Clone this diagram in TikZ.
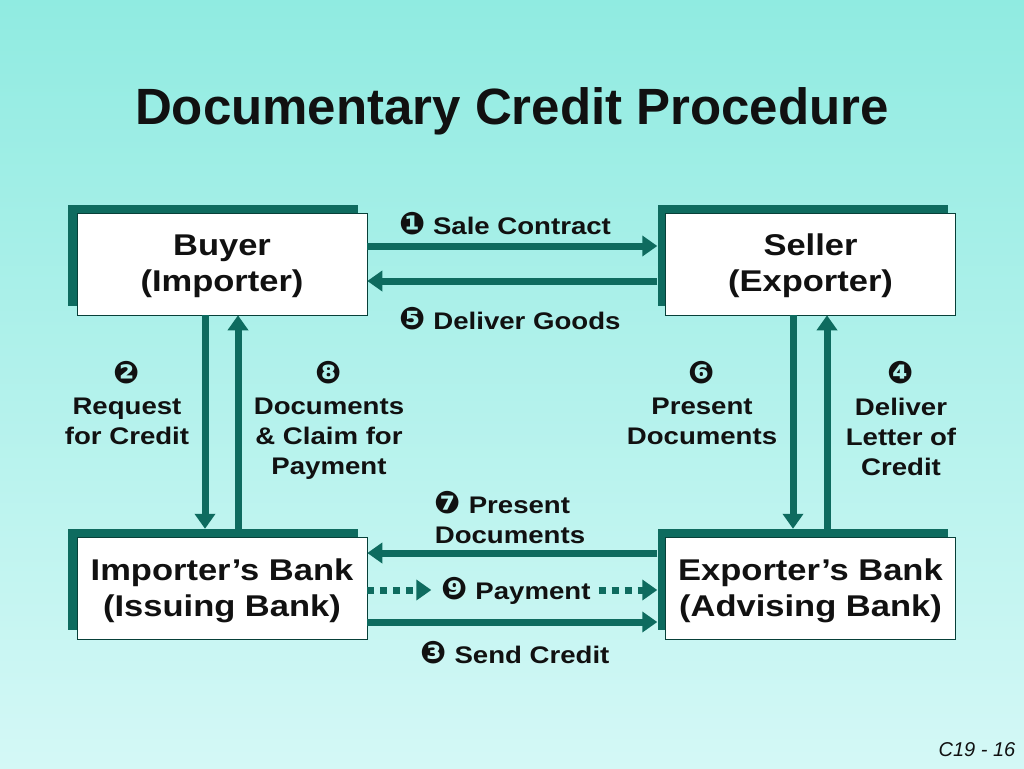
\documentclass[tikz,border=0pt]{standalone}
\usepackage{fontspec}
\setmainfont{Liberation Sans}
\newfontfamily\widefont[FakeStretch=1.15]{Liberation Sans}
\newfontfamily\dingfont{DejaVu Sans}
\usetikzlibrary{arrows.meta,calc}
\definecolor{teal1}{HTML}{0E6B5F}
\definecolor{bgtop}{HTML}{90EBE1}
\definecolor{bgbot}{HTML}{D4F8F6}
\definecolor{ink}{HTML}{111111}
\tikzset{
  box/.style={draw=teal1!60!black, line width=0.6pt, fill=white, minimum width=290pt, minimum height=102pt, inner sep=0pt, align=center, font=\widefont\fontsize{30}{36}\selectfont\bfseries, text=ink},
  shadowbox/.style={fill=teal1, minimum width=290pt, minimum height=101pt, inner sep=0pt},
  arr/.style={draw=teal1, line width=7pt, -{Triangle[length=15pt,width=20pt]}},
  dotarr/.style={draw=teal1, line width=7pt, dash pattern=on 7pt off 6pt, -{Triangle[length=15pt,width=20pt]}},
  lbl/.style={font=\widefont\fontsize{24}{30}\selectfont\bfseries, text=ink, align=center, inner sep=2pt},
}
\newcommand{\dn}[1]{{\dingfont\fontsize{31}{30}\selectfont #1}}
\newcommand{\boxtext}[2]{\raisebox{-2pt}[\height][\depth]{\parbox{286pt}{\centering #1\\#2}}}
\begin{document}
\begin{tikzpicture}[x=1pt,y=-1pt]
\useasboundingbox (0,0) rectangle (1024,768);
\shade[top color=bgtop, bottom color=bgbot] (0,0) rectangle (1024,768);
\node[font=\fontsize{51}{56}\selectfont\bfseries, text=ink] (title) at (512,111) {Documentary Credit Procedure};
% shadows
\node[shadowbox] (buyersh) at (213,255) {};
\node[shadowbox] (sellersh) at (802.5,255) {};
\node[shadowbox] (impsh) at (213,579.5) {};
\node[shadowbox] (expsh) at (802.5,579.5) {};
% boxes
\node[box] (buyer) at (222,264) {\boxtext{Buyer}{(Importer)}};
\node[box] (seller) at (810.5,264) {\boxtext{Seller}{(Exporter)}};
\node[box] (impbank) at (222,588.5) {\boxtext{Importer’s Bank}{(Issuing Bank)}};
\node[box] (expbank) at (810.5,588.5) {\boxtext{Exporter’s Bank}{(Advising Bank)}};
% top arrows
\draw[arr] ([yshift=18pt]buyer.east) -- ([yshift=9pt]sellersh.west);
\draw[arr] ([yshift=-26pt]sellersh.west) -- ([yshift=-17pt]buyer.east);
\node[lbl] (l1) at (505,224) {\dn{❶} Sale Contract};
\node[lbl] (l5) at (510,319) {\dn{❺} Deliver Goods};
% left verticals
\draw[arr] ([xshift=-17pt]buyer.south) -- ([xshift=-8pt]impsh.north);
\draw[arr] ([xshift=25pt]impsh.north) -- ([xshift=16pt]buyer.south);
% right verticals
\draw[arr] ([xshift=-17.5pt]seller.south) -- ([xshift=-9.5pt]expsh.north);
\draw[arr] ([xshift=24.5pt]expsh.north) -- ([xshift=16.5pt]seller.south);
% vertical labels
\node[lbl] (n2) at (127,373) {\dn{❷}};
\node[lbl, anchor=north] (l2) at (127,396) {Request\\for Credit};
\node[lbl] (n8) at (329,373) {\dn{❽}};
\node[lbl, anchor=north] (l8) at (329,396) {Documents\\\& Claim for\\Payment};
\node[lbl] (n6) at (702,373) {\dn{❻}};
\node[lbl, anchor=north] (l6) at (702,396) {Present\\Documents};
\node[lbl] (n4) at (901,373) {\dn{❹}};
\node[lbl, anchor=north] (l4) at (901,396) {Deliver\\Letter of\\Credit};
% bottom arrows
\node[lbl, align=left] (l7) at (510,518) {\dn{❼} Present\\Documents};
\draw[arr] ([yshift=26.5pt]expsh.west) -- ([yshift=35.5pt]impbank.east);
\node[lbl] (l9) at (516,591) {\dn{❾} Payment};
\draw[dotarr] ([yshift=-1.5pt]impbank.east) -- ([xshift=-8pt]l9.west |- 0,590);
\draw[dotarr] ([xshift=6pt]l9.east |- 0,590) -- ([yshift=-10.5pt]expsh.west);
\draw[arr] ([yshift=-33.5pt]impbank.east) -- ([yshift=-42.5pt]expsh.west);
\node[lbl] (l3) at (515,653) {\dn{❸} Send Credit};
\node[font=\fontsize{20}{24}\selectfont\itshape, text=ink] (pg) at (977,750) {C19 - 16};
\end{tikzpicture}
\end{document}
